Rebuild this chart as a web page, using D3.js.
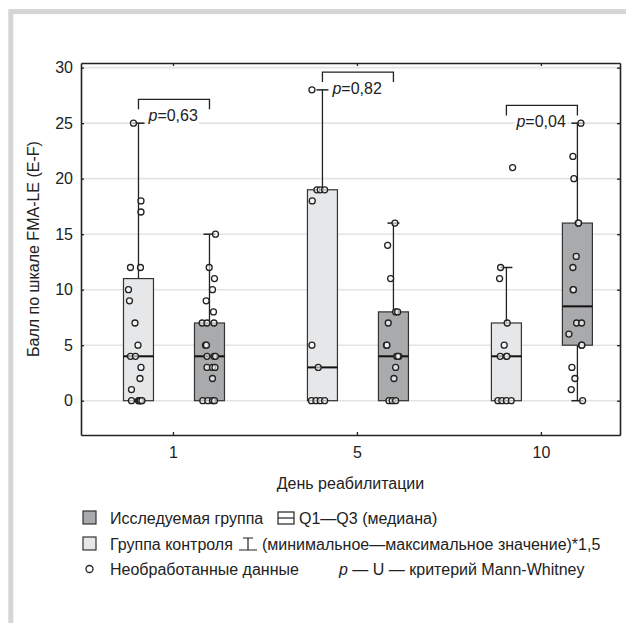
<!DOCTYPE html>
<html>
<head>
<meta charset="utf-8">
<script src="https://cdn.jsdelivr.net/npm/d3@7"></script>
<style>
  body { margin: 0; background: #fff; }
  svg { display: block; font-family: "Liberation Sans", Arial, sans-serif; }
</style>
</head>
<body>
<div id="chart"></div>
<script>
// days on the x axis
var days = ["1", "5", "10"];
var yTicks = [0, 5, 10, 15, 20, 25, 30];

// box stats per day: [Q1, median, Q3, whisker low, whisker high]
var controlBoxes = [[0, 4, 11, 0, 25], [0, 3, 19, 0, 28], [0, 4, 7, 0, 12]];
var studyBoxes = [[0, 4, 7, 0, 15], [0, 4, 8, 0, 16], [5, 8.5, 16, 0, 25]];

// raw scores
var controlRaw = [
    [25, 18, 17, 12, 12, 10, 9, 7, 5, 4, 4, 3, 2, 1, 0, 0, 0, 0, 0],
    [28, 19, 19, 19, 18, 5, 3, 0, 0, 0, 0],
    [21, 12, 11, 7, 5, 4, 4, 4, 0, 0, 0, 0]
];
var studyRaw = [
    [15, 12, 11, 10, 9, 8, 7, 7, 7, 5, 5, 4, 4, 4, 3, 3, 3, 2, 0, 0, 0, 0],
    [16, 14, 11, 8, 8, 7, 5, 5, 4, 4, 4, 3, 2, 0, 0, 0],
    [25, 22, 20, 16, 16, 13, 12, 10, 10, 7, 7, 6, 5, 5, 3, 2, 1, 0]
];

// horizontal jitter of the raw points, px (layout only)
var controlJitter = [
    [-5, 2.5, 2.5, -8, 2, -10, -9, -3.5, -0.5, -8, -3, 2.5, 1.5, -7, -7, 0, 1, 2, 3.5],
    [-10.5, -5.5, -2.2, 2.2, -10.2, -10.5, -4.2, -11, -6.5, -2.2, 2.2],
    [6.2, -5.8, -6.8, 0.8, -2.2, -6.2, 0, 0.5, -8.5, -4.5, 0, 4.8]
];
var studyJitter = [
    [6, -0.3, 5, 3, -3.3, 4, -7.3, -2.5, 4.5, -4, -3, -2.5, 4.5, 6, -2.5, 3, 5.5, 3, -6.7, -1.7, 3, 5],
    [1.5, -5.8, -2.8, 2.2, 4.2, -5.2, -7, -6.5, 3.2, 5.5, 4.5, 2.2, 0.5, -4.5, -1.2, 2.2],
    [3.5, -4.5, -3.5, 0.8, 1.2, -1.2, -4.5, -4.2, -4, -0.8, 4.2, -8.5, 4.2, 4.5, -5.5, -2.5, -6.2, 5.2]
];

// Mann-Whitney p values and bracket heights (score units)
var pValues = ["0,63", "0,82", "0,04"];
var bracketLevels = [27.15, 29.6, 26.6];

var width = 626, height = 623;
var margin = {top: 63, right: 6, bottom: 188, left: 81};
var ink = "#222";

var svg = d3.select("#chart").append("svg")
    .attr("width", width)
    .attr("height", height);

// grey page frame
svg.append("rect")
    .attr("x", 10.8).attr("y", 11.6)
    .attr("width", 800).attr("height", 800)
    .attr("fill", "none")
    .attr("stroke", "#d5d5d5")
    .attr("stroke-width", 5);

var x0 = margin.left, x1 = width - margin.right;
var y0 = height - margin.bottom, y1 = margin.top;

var xScale = d3.scaleLinear().domain([-0.5, 2.43]).range([x0, x1]);
var yScale = d3.scaleLinear().domain([-3.09, 30.42]).range([y0, y1]);

var boxW = 30;
var ctrlOff = -34.5, studyOff = 36.5;

// grid
svg.append("g").selectAll("line")
    .data(yTicks)
    .enter().append("line")
    .attr("x1", x0).attr("x2", x1)
    .attr("y1", function (d) { return yScale(d); })
    .attr("y2", function (d) { return yScale(d); })
    .attr("stroke", "#e4e4e4")
    .attr("stroke-width", 1.6);

// axes, ticks inward on all four sides
var idx = days.map(function (d, i) { return i; });
var fmtDay = function (i) { return days[i]; };

svg.append("g")
    .attr("transform", "translate(0," + y0 + ")")
    .call(d3.axisBottom(xScale).tickValues(idx).tickFormat(fmtDay).tickSizeInner(-3).tickSizeOuter(0).tickPadding(12))
    .call(styleAxis);
svg.append("g")
    .attr("transform", "translate(0," + y1 + ")")
    .call(d3.axisTop(xScale).tickValues(idx).tickFormat("").tickSizeInner(-3).tickSizeOuter(0))
    .call(styleAxis);
svg.append("g")
    .attr("transform", "translate(" + x0 + ",0)")
    .call(d3.axisLeft(yScale).tickValues(yTicks).tickSizeInner(-3).tickSizeOuter(0).tickPadding(8))
    .call(styleAxis);
svg.append("g")
    .attr("transform", "translate(" + x1 + ",0)")
    .call(d3.axisRight(yScale).tickValues(yTicks).tickFormat("").tickSizeInner(-3).tickSizeOuter(0))
    .call(styleAxis);

function styleAxis(g) {
    g.select(".domain").attr("stroke", ink).attr("stroke-width", 1.6);
    g.selectAll(".tick line").attr("stroke", ink).attr("stroke-width", 1.3);
    g.selectAll(".tick text").attr("fill", ink).attr("font-size", 16)
        .attr("font-family", "Liberation Sans, Arial, sans-serif");
}

// axis titles
svg.append("text")
    .attr("x", (x0 + x1) / 2).attr("y", 489)
    .attr("text-anchor", "middle")
    .attr("font-size", 16).attr("fill", ink)
    .text("День реабилитации");
svg.append("text")
    .attr("transform", "translate(39," + ((y0 + y1) / 2) + ") rotate(-90)")
    .attr("text-anchor", "middle")
    .attr("font-size", 16).attr("fill", ink)
    .text("Балл по шкале FMA-LE (E-F)");

// boxes
function drawGroup(boxes, raw, jitter, off, fill) {
    var g = svg.append("g");
    boxes.forEach(function (b, i) {
        var cx = xScale(i) + off;
        // whiskers
        if (b[4] > b[2]) {
            g.append("line").attr("x1", cx).attr("x2", cx)
                .attr("y1", yScale(b[2])).attr("y2", yScale(b[4]))
                .attr("stroke", ink).attr("stroke-width", 1.3);
            g.append("line").attr("x1", cx - 6).attr("x2", cx + 6)
                .attr("y1", yScale(b[4])).attr("y2", yScale(b[4]))
                .attr("stroke", ink).attr("stroke-width", 1.5);
        }
        if (b[3] < b[0]) {
            g.append("line").attr("x1", cx).attr("x2", cx)
                .attr("y1", yScale(b[0])).attr("y2", yScale(b[3]))
                .attr("stroke", ink).attr("stroke-width", 1.3);
            g.append("line").attr("x1", cx - 6).attr("x2", cx + 6)
                .attr("y1", yScale(b[3])).attr("y2", yScale(b[3]))
                .attr("stroke", ink).attr("stroke-width", 1.5);
        }
        g.append("rect")
            .attr("x", cx - boxW / 2).attr("width", boxW)
            .attr("y", yScale(b[2])).attr("height", yScale(b[0]) - yScale(b[2]))
            .attr("fill", fill).attr("stroke", "#333").attr("stroke-width", 1.2);
        g.append("line").attr("x1", cx - boxW / 2).attr("x2", cx + boxW / 2)
            .attr("y1", yScale(b[1])).attr("y2", yScale(b[1]))
            .attr("stroke", "#111").attr("stroke-width", 2);
        g.selectAll(null)
            .data(raw[i])
            .enter().append("circle")
            .attr("cx", function (d, j) { return cx + jitter[i][j]; })
            .attr("cy", function (d) { return yScale(d); })
            .attr("r", 3)
            .attr("fill", "#fff")
            .attr("fill-opacity", 0.6)
            .attr("stroke", ink)
            .attr("stroke-width", 1.3);
    });
}
drawGroup(controlBoxes, controlRaw, controlJitter, ctrlOff, "#e6e7e9");
drawGroup(studyBoxes, studyRaw, studyJitter, studyOff, "#a9aaac");

// p-value brackets
pValues.forEach(function (p, i) {
    var xa = xScale(i) + ctrlOff, xb = xScale(i) + studyOff;
    var yb = yScale(bracketLevels[i]);
    var t = svg.append("text")
        .attr("x", xa + 10).attr("y", yb + 22)
        .attr("font-size", 16).attr("fill", ink);
    t.append("tspan").attr("font-style", "italic").text("p");
    t.append("tspan").text("=" + p);
    var bb = t.node().getBBox();
    svg.insert("rect", function () { return t.node(); })
        .attr("x", bb.x - 1).attr("y", bb.y).attr("width", bb.width + 2).attr("height", bb.height)
        .attr("fill", "#fff");
    svg.append("path")
        .attr("d", "M" + xa + "," + (yb + 10) + "V" + yb + "H" + xb + "V" + (yb + 10))
        .attr("fill", "none").attr("stroke", ink).attr("stroke-width", 1.3);
});

// legend
var lg = svg.append("g").attr("font-size", 16).attr("fill", ink);
var rows = [518, 544, 569];

lg.append("rect").attr("x", 83).attr("y", rows[0] - 7).attr("width", 13).attr("height", 13)
    .attr("fill", "#a9aaac").attr("stroke", "#333").attr("stroke-width", 1.2);
lg.append("rect").attr("x", 83).attr("y", rows[1] - 7).attr("width", 13).attr("height", 13)
    .attr("fill", "#e6e7e9").attr("stroke", "#333").attr("stroke-width", 1.2);
lg.append("circle").attr("cx", 89.5).attr("cy", rows[2]).attr("r", 3.5)
    .attr("fill", "#fff").attr("stroke", ink).attr("stroke-width", 1.3);

lg.append("text").attr("x", 110).attr("y", rows[0] + 6).text("Исследуемая группа");
lg.append("text").attr("x", 110).attr("y", rows[1] + 6).text("Группа контроля");
lg.append("text").attr("x", 110).attr("y", rows[2] + 6).text("Необработанные данные");

// box icon
lg.append("rect").attr("x", 278).attr("y", rows[0] - 6).attr("width", 16).attr("height", 12)
    .attr("fill", "#fff").attr("stroke", ink).attr("stroke-width", 1.2);
lg.append("line").attr("x1", 278).attr("x2", 294).attr("y1", rows[0]).attr("y2", rows[0])
    .attr("stroke", ink).attr("stroke-width", 1.2);
lg.append("text").attr("x", 299).attr("y", rows[0] + 6).text("Q1—Q3 (медиана)");

// whisker icon
lg.append("path")
    .attr("d", "M243," + (rows[1] - 6) + "H253M248," + (rows[1] - 6) + "V" + (rows[1] + 6) + "M239," + (rows[1] + 6) + "H257")
    .attr("fill", "none").attr("stroke", ink).attr("stroke-width", 1.2);
lg.append("text").attr("x", 262).attr("y", rows[1] + 6).text("(минимальное—максимальное значение)*1,5");

var pt = lg.append("text").attr("x", 339).attr("y", rows[2] + 6);
pt.append("tspan").attr("font-style", "italic").text("p");
pt.append("tspan").text(" — U — критерий Mann-Whitney");
</script>
</body>
</html>
